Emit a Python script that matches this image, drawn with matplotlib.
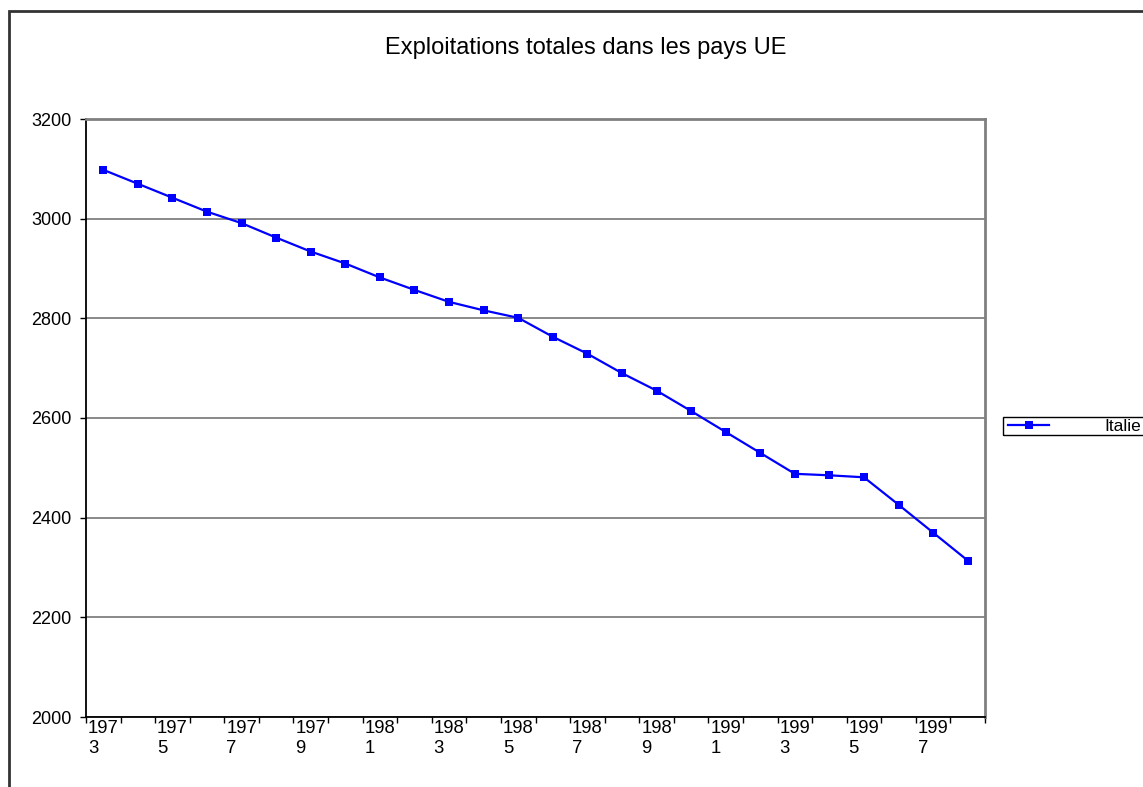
import numpy as np
import matplotlib.pyplot as plt
from matplotlib.patches import Rectangle

plt.rcParams['font.family'] = ['Liberation Sans', 'DejaVu Sans']

years = list(range(1973, 1999))
italie = [3098, 3070, 3042, 3014, 2991, 2962, 2934, 2910, 2882, 2857,
          2833, 2816, 2801, 2763, 2729, 2690, 2655, 2614, 2572, 2530,
          2488, 2485, 2481, 2426, 2370, 2314]
yticks = [2000, 2200, 2400, 2600, 2800, 3000, 3200]
title = 'Exploitations totales dans les pays UE'

fig = plt.figure(figsize=(11.43, 7.87), dpi=100)
ax = fig.add_axes([86/1143, 1-717/787, (985-86)/1143, (717-119)/787])

x = np.arange(len(years))
ax.plot(x, italie, color='#0000ff', lw=1.6, marker='s', markersize=6,
        markeredgewidth=0, label='Italie')

ax.set_xlim(-0.5, len(years) - 0.5)
ax.set_ylim(2000, 3200)
ax.set_yticks(yticks)
ax.set_yticklabels([str(v) for v in yticks], fontsize=13)
ax.grid(axis='y', color='#808080', lw=1.3)
ax.set_axisbelow(True)

# ticks on category boundaries, labels on every second category
ax.set_xticks(np.arange(len(years) + 1) - 0.5)
ax.set_xticklabels([])
ax.tick_params(axis='x', length=4, width=1, color='black', direction='out')
ax.tick_params(axis='y', length=4.5, width=1, color='black', direction='out', pad=6)
for i in range(0, len(years), 2):
    s = str(years[i])
    ax.text(i, 2000 - 6, s[:3] + '\n' + s[3:], ha='center', va='top',
            multialignment='left', fontsize=13.3, linespacing=1.2,
            transform=ax.transData)

for side in ['top', 'right']:
    ax.spines[side].set_color('#808080')
    ax.spines[side].set_linewidth(2)
for side in ['left', 'bottom']:
    ax.spines[side].set_color('black')
    ax.spines[side].set_linewidth(1.3)

fig.text(586/1143, 1-48/787, title, ha='center', va='center', fontsize=17)

# outer chart border
fig.patches.append(Rectangle((8.5/1143, -0.1), 1.2, 1-10.5/787 + 0.1,
                             transform=fig.transFigure, fill=False,
                             edgecolor='#333333', lw=2))

# legend (box runs past the right edge, as in the original)
leg = fig.legend(loc='center left', bbox_to_anchor=(1006/1143, 1-426/787),
                 fontsize=12.5, handlelength=2.4, handletextpad=3.15,
                 frameon=False, borderpad=0.1, borderaxespad=0)
fig.patches.append(Rectangle((1003/1143, 1-435/787), 200/1143, 18/787,
                             transform=fig.transFigure, fill=False,
                             edgecolor='black', lw=1))

fig.savefig('out.png', dpi=100)
